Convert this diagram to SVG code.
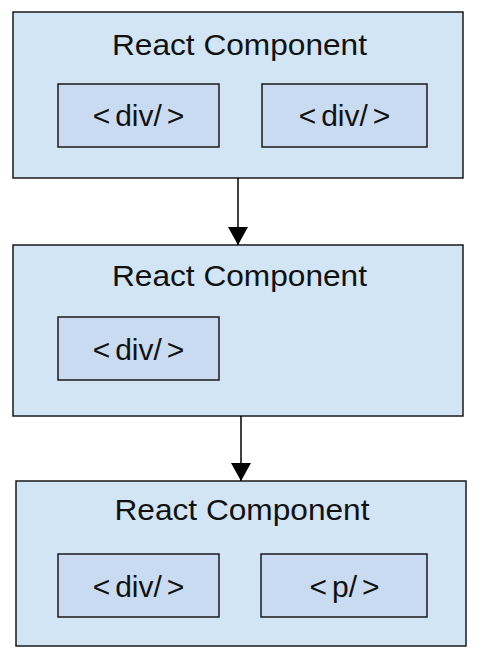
<svg xmlns="http://www.w3.org/2000/svg" width="479" height="660" viewBox="0 0 479 660">
<style>
.outer{fill:#d1e5f5;stroke:#1a1a1a;stroke-width:1.5}
.inner{fill:#c9dbf0;stroke:#1a1a1a;stroke-width:1.5}
.t{font-family:"Liberation Sans",Arial,sans-serif;font-size:30px;fill:#111;text-anchor:middle}
.s{font-family:"Liberation Sans",Arial,sans-serif;font-size:30px;fill:#111;text-anchor:middle}
.c{stroke:#000;stroke-width:1.5;fill:none}
</style>
<defs>
<marker id="ah" markerWidth="18" markerHeight="20" refX="18" refY="10" orient="auto" markerUnits="userSpaceOnUse">
<path d="M0,0 L18,10 L0,20 Z" fill="#000"/>
</marker>
</defs>
<g id="comp1">
<rect class="outer" x="13" y="12" width="450" height="166"/>
<text class="t" x="239.5" y="55" textLength="255" lengthAdjust="spacingAndGlyphs">React Component</text>
<g id="c1-div1"><rect class="inner" x="58" y="84" width="161" height="63"/><text class="s" x="138.5" y="126">&lt;<tspan dx="5">div/</tspan><tspan dx="5">&gt;</tspan></text></g>
<g id="c1-div2"><rect class="inner" x="262" y="84" width="165" height="63"/><text class="s" x="344.5" y="126">&lt;<tspan dx="5">div/</tspan><tspan dx="5">&gt;</tspan></text></g>
</g>
<g id="comp2">
<rect class="outer" x="13" y="245" width="450" height="171"/>
<text class="t" x="239.5" y="286" textLength="255" lengthAdjust="spacingAndGlyphs">React Component</text>
<g id="c2-div1"><rect class="inner" x="58" y="317" width="161" height="63"/><text class="s" x="138.5" y="360">&lt;<tspan dx="5">div/</tspan><tspan dx="5">&gt;</tspan></text></g>
</g>
<g id="comp3">
<rect class="outer" x="16" y="481" width="450" height="165"/>
<text class="t" x="242" y="520" textLength="255" lengthAdjust="spacingAndGlyphs">React Component</text>
<g id="c3-div1"><rect class="inner" x="58" y="554" width="161" height="63"/><text class="s" x="138.5" y="597">&lt;<tspan dx="5">div/</tspan><tspan dx="5">&gt;</tspan></text></g>
<g id="c3-p1"><rect class="inner" x="261" y="554" width="166" height="63"/><text class="s" x="344.5" y="597">&lt;<tspan dx="5">p/</tspan><tspan dx="5">&gt;</tspan></text></g>
</g>
<g id="connectors">
<line class="c" x1="238" y1="178" x2="238" y2="245" marker-end="url(#ah)"/>
<line class="c" x1="241" y1="416" x2="241" y2="481" marker-end="url(#ah)"/>
</g>
</svg>
